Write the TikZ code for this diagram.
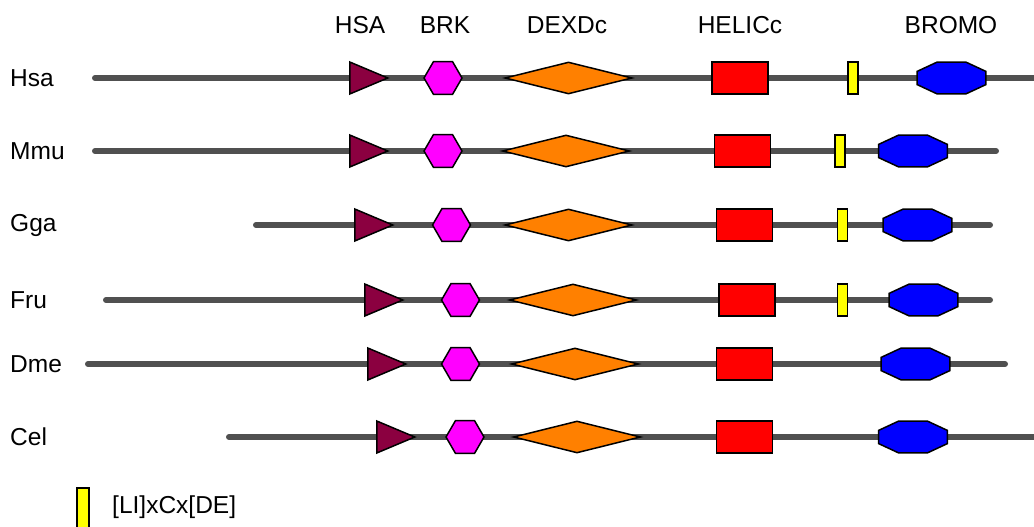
\documentclass[tikz,border=0pt]{standalone}
\usepackage{fontspec}
\setmainfont{Liberation Sans}
\usepackage{xcolor}
\usepackage{tikz}
\usetikzlibrary{shapes.geometric}
\definecolor{domhsa}{RGB}{139, 0, 64}
\definecolor{dombrk}{RGB}{255, 0, 255}
\definecolor{domdexd}{RGB}{255, 128, 0}
\definecolor{domhelic}{RGB}{255, 0, 0}
\definecolor{domlixc}{RGB}{255, 255, 0}
\definecolor{dombromo}{RGB}{0, 0, 255}
\definecolor{chain}{RGB}{80, 80, 80}

\begin{document}
\begin{tikzpicture}[
    x=1pt, y=-1pt,
    label/.style={font=\fontsize{24.5}{28}\selectfont, inner sep=0pt},
    backbone/.style={draw=chain, line width=6pt, line cap=round},
    dom/.style={draw=black, line width=1.5pt, fill=#1, inner sep=0pt},
    hsabox/.style={dom=domhsa, isosceles triangle, isosceles triangle stretches, shape border rotate=0, minimum width=32pt, minimum height=38pt, anchor=lower side},
    brkbox/.style={dom=dombrk, regular polygon, regular polygon sides=6, minimum size=38pt},
    dexdbox/.style={dom=domdexd, diamond, minimum width=127pt, minimum height=32pt},
    helicbox/.style={dom=domhelic, rectangle, minimum width=56pt, minimum height=32pt},
    lixcbox/.style={dom=domlixc, rectangle, minimum width=10pt, minimum height=32pt},
    bromobox/.style={dom=dombromo, regular polygon, regular polygon sides=8, minimum size=34.6pt, xscale=2.15, transform shape}
]
\useasboundingbox (0,0) rectangle (1034,527);

% Domain names
\node[label] (head-hsa) at (360,25) {HSA};
\node[label] (head-brk) at (445,25) {BRK};
\node[label] (head-dexd) at (567,25) {DEXDc};
\node[label] (head-helic) at (740,25) {HELICc};
\node[label] (head-bromo) at (951,25) {BROMO};

% Species
\node[label, anchor=west] (hsa-name) at (10,78) {Hsa};
\node[label, anchor=west] (mmu-name) at (10,151) {Mmu};
\node[label, anchor=west] (gga-name) at (10,225) {Gga};
\node[label, anchor=west] (fru-name) at (10,300) {Fru};
\node[label, anchor=west] (dme-name) at (10,364) {Dme};
\node[label, anchor=west] (cel-name) at (10,437) {Cel};

% Backbones
\coordinate (hsa-s) at (95,78);   \coordinate (hsa-e) at (1045,78);
\coordinate (mmu-s) at (95,151);  \coordinate (mmu-e) at (996,151);
\coordinate (gga-s) at (256,225); \coordinate (gga-e) at (990,225);
\coordinate (fru-s) at (106,300); \coordinate (fru-e) at (990,300);
\coordinate (dme-s) at (88,364);  \coordinate (dme-e) at (1005,364);
\coordinate (cel-s) at (229,437); \coordinate (cel-e) at (1045,437);
\draw[backbone] (hsa-s) -- (hsa-e);
\draw[backbone] (mmu-s) -- (mmu-e);
\draw[backbone] (gga-s) -- (gga-e);
\draw[backbone] (fru-s) -- (fru-e);
\draw[backbone] (dme-s) -- (dme-e);
\draw[backbone] (cel-s) -- (cel-e);

% Hsa
\node[hsabox] (hsa-hsa) at (349,78) {};
\node[brkbox] (hsa-brk) at (443,78) {};
\node[dexdbox] (hsa-dexd) at (568.5,78) {};
\node[helicbox] (hsa-helic) at (740,78) {};
\node[lixcbox] (hsa-lixc) at (853,78) {};
\node[bromobox] (hsa-bromo) at (951.5,78) {};

% Mmu
\node[hsabox] (mmu-hsa) at (349,151) {};
\node[brkbox] (mmu-brk) at (443,151) {};
\node[dexdbox] (mmu-dexd) at (566,151) {};
\node[helicbox] (mmu-helic) at (742.5,151) {};
\node[lixcbox] (mmu-lixc) at (840,151) {};
\node[bromobox] (mmu-bromo) at (913,151) {};

% Gga
\node[hsabox] (gga-hsa) at (354,225) {};
\node[brkbox] (gga-brk) at (451.5,225) {};
\node[dexdbox] (gga-dexd) at (568.5,225) {};
\node[helicbox] (gga-helic) at (744.5,225) {};
\node[lixcbox] (gga-lixc) at (842.5,225) {};
\node[bromobox] (gga-bromo) at (917.5,225) {};

% Fru
\node[hsabox] (fru-hsa) at (364,300) {};
\node[brkbox] (fru-brk) at (460.5,300) {};
\node[dexdbox] (fru-dexd) at (573,300) {};
\node[helicbox] (fru-helic) at (747,300) {};
\node[lixcbox] (fru-lixc) at (842.5,300) {};
\node[bromobox] (fru-bromo) at (923.5,300) {};

% Dme
\node[hsabox] (dme-hsa) at (367,364) {};
\node[brkbox] (dme-brk) at (460.5,364) {};
\node[dexdbox] (dme-dexd) at (575,364) {};
\node[helicbox] (dme-helic) at (744.5,364) {};
\node[bromobox] (dme-bromo) at (915.5,364) {};

% Cel
\node[hsabox] (cel-hsa) at (376,437) {};
\node[brkbox] (cel-brk) at (465,437) {};
\node[dexdbox] (cel-dexd) at (577,437) {};
\node[helicbox] (cel-helic) at (744.5,437) {};
\node[bromobox] (cel-bromo) at (913,437) {};

% Legend
\node[dom=domlixc, rectangle, minimum width=12pt, minimum height=48pt] (key-lixc) at (83,512) {};
\node[label, anchor=west] (key-text) at (112,507) {[LI]xCx[DE]};

\end{tikzpicture}
\end{document}
